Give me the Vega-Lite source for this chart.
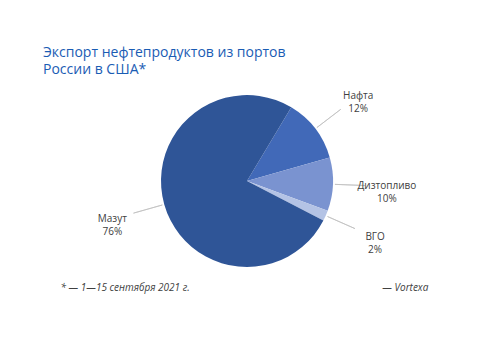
{
  "$schema": "https://vega.github.io/schema/vega-lite/v6.json",
  "width": 494,
  "height": 362,
  "autosize": {"type": "none"},
  "padding": 0,
  "background": "white",
  "config": {"view": {"stroke": null}},
  "title": {
    "text": ["Экспорт нефтепродуктов из портов", "России в США*"],
    "subtitle": "\u200B\u2003\u2002\u2005* — 1—15 сентября 2021 г.\u2003\u2003\u2003\u2003\u2003\u2003\u2003\u2003\u2003\u2003\u2003\u2003\u2003\u2003\u2003\u2003\u2003\u2003\u2003 — Vortexa",
    "orient": "top",
    "anchor": "start",
    "frame": "group",
    "font": "Open Sans",
    "fontSize": 14,
    "fontWeight": 500,
    "color": "#1A5CB4",
    "lineHeight": 17,
    "subtitleFont": "Open Sans",
    "subtitleFontSize": 10,
    "subtitleFontStyle": "italic",
    "subtitleColor": "#404040",
    "subtitleLineHeight": 12,
    "subtitlePadding": 206,
    "offset": 0,
    "dx": 43,
    "dy": 293
  },
  "data": {
    "values": [
      {"cat": "Нафта", "share": 12},
      {"cat": "Дизтопливо", "share": 10},
      {"cat": "ВГО", "share": 2},
      {"cat": "Мазут", "share": 76}
    ]
  },
  "transform": [
    {"stack": "share", "groupby": [], "as": ["s0", "s1"]},
    {"calculate": "(datum.s0 + datum.s1) / 2", "as": "mid"},
    {"calculate": "datum.cat + '\\n' + datum.share + '%'", "as": "label"}
  ],
  "layer": [
    {
      "mark": {"type": "arc", "radius": 86},
      "encoding": {
        "theta": {"field": "s0", "type": "quantitative", "scale": {"domain": [0, 100], "range": [0.541, 6.824]}},
        "theta2": {"field": "s1"},
        "color": {
          "field": "cat",
          "type": "nominal",
          "scale": {"domain": ["Нафта", "Дизтопливо", "ВГО", "Мазут"], "range": ["#4169B8", "#7A93D0", "#B4C3E5", "#2F5597"]},
          "legend": null
        }
      }
    },
    {
      "mark": {"type": "arc", "radius": 118, "radius2": 88, "filled": false, "stroke": "#BFBFBF", "strokeWidth": 0.75},
      "encoding": {
        "theta": {"field": "mid", "type": "quantitative"},
        "theta2": {"field": "mid"}
      }
    },
    {
      "mark": {"type": "text", "radius": 140, "font": "Open Sans", "fontSize": 10, "fill": "#404040", "lineBreak": "\n", "lineHeight": 13, "align": "center", "baseline": "middle"},
      "encoding": {
        "theta": {"field": "mid", "type": "quantitative"},
        "text": {"field": "label"}
      }
    }
  ]
}
